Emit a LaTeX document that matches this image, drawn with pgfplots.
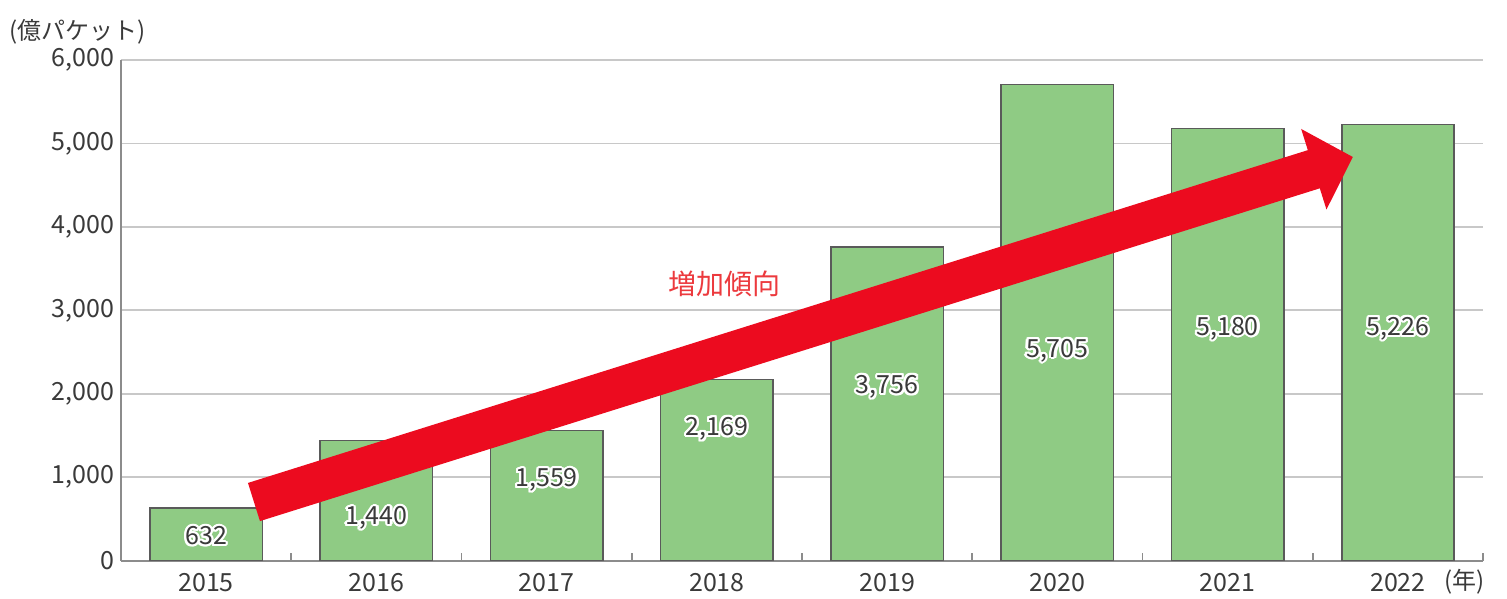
\documentclass[border=0pt]{standalone}
\usepackage{pgfplots}
\pgfplotsset{compat=1.18}
\usepackage{fontspec}
\setmainfont{Noto Sans CJK JP}
\usetikzlibrary{arrows.meta,calc}
\usepackage{contour}
\contourlength{1.1pt}
\definecolor{barg}{HTML}{8FCB84}
\definecolor{bard}{HTML}{5A5A5A}
\definecolor{axisgray}{HTML}{8C8C8C}
\definecolor{gridgray}{HTML}{C8C8C8}
\definecolor{txt}{HTML}{3A3A3A}
\definecolor{arrred}{HTML}{EC0B1F}
\definecolor{lblred}{HTML}{EC3A3E}
\begin{document}
\begin{tikzpicture}
\begin{axis}[
  scale only axis, width=681pt, height=250.35pt,
  xmin=-0.5, xmax=7.5, ymin=0, ymax=6000,
  clip=false,
  axis x line*=bottom, axis y line*=left,
  axis line style={draw=axisgray, line width=0.9pt},
  xtick={0,1,2,3,4,5,6,7},
  xticklabels={2015,2016,2017,2018,2019,2020,2021,2022},
  minor xtick={0.5,1.5,2.5,3.5,4.5,5.5,6.5,7.5},
  minor x tick style={draw=axisgray, line width=0.9pt},
  minor tick length=4pt, major tick length=0pt, tick align=inside,
  ytick={0,1000,2000,3000,4000,5000,6000},
  ymajorgrids, grid style={draw=gridgray, line width=0.9pt},
  /pgf/number format/.cd, 1000 sep={,}, assume math mode=true,
  /pgfplots/.cd,
  tick label style={font=\fontsize{12.5}{15}\selectfont, text=txt},
  xticklabel style={yshift=-3pt},
]
\addplot[ybar, bar width=0.66, fill=barg, draw=bard, line width=0.8pt]
  coordinates {(0,632) (1,1440) (2,1559) (3,2169) (4,3756) (5,5705) (6,5180) (7,5226)};
\coordinate (ll) at (rel axis cs:0,0);
\coordinate (ur) at (rel axis cs:1,1);
\draw[arrred, line width=20pt, -{Triangle[length=20.5pt,width=41pt]}]
  (axis cs:0.281,703) -- (axis cs:6.736,4838);
\begin{scope}[every node/.style={font=\fontsize{12.5}{15}\selectfont, text=txt}]
\node at (axis cs:0,284) {\contour{white}{632}};
\node at (axis cs:1,500) {\contour{white}{1,440}};
\node at (axis cs:2,955) {\contour{white}{1,559}};
\node at (axis cs:3,1567) {\contour{white}{2,169}};
\node at (axis cs:4,2071) {\contour{white}{3,756}};
\node at (axis cs:5,2503) {\contour{white}{5,705}};
\node at (axis cs:6,2767) {\contour{white}{5,180}};
\node at (axis cs:7,2767) {\contour{white}{5,226}};
\end{scope}
\node[font=\fontsize{14}{16}\selectfont, text=lblred] at (axis cs:3.042,3316) {増加傾向};
\node[font=\fontsize{12}{14}\selectfont, text=txt] at (axis cs:-0.753,6336) {(億パケット)};
\node[font=\fontsize{12}{14}\selectfont, text=txt, anchor=base] at (axis cs:7.39,-340) {(年)};
\end{axis}
\pgfresetboundingbox
\path[use as bounding box] ($(ll)+(-60.5pt,-19.15pt)$) rectangle ($(ur)+(12pt,30pt)$);
\end{tikzpicture}
\end{document}
